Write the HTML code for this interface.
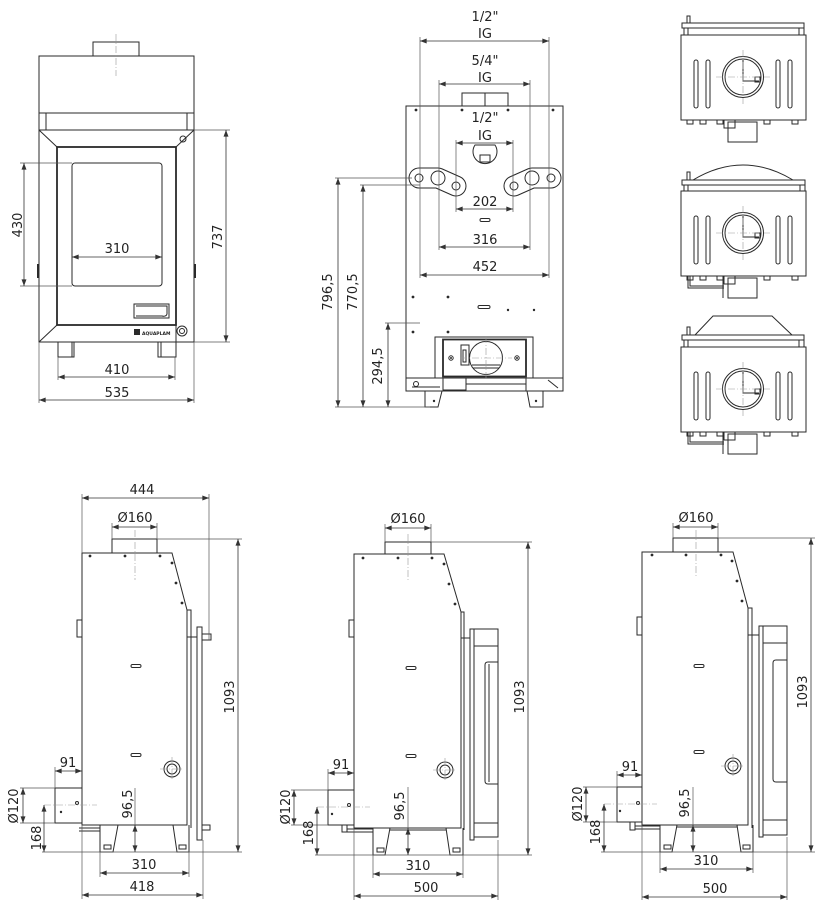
<!DOCTYPE html>
<html><head><meta charset="utf-8">
<style>
html,body{margin:0;padding:0;background:#fff;}
svg{display:block;}
text{font-family:"DejaVu Sans","Liberation Sans",sans-serif;font-size:13px;fill:#222;text-anchor:middle;}
.o{fill:none;stroke:#2a2a2a;stroke-width:1;}
.d{fill:none;stroke:#333;stroke-width:.8;marker-start:url(#a);marker-end:url(#a);}
.e{fill:none;stroke:#555;stroke-width:.7;}
.c{fill:none;stroke:#999;stroke-width:.6;stroke-dasharray:7 2 1 2;}
.f{fill:#2a2a2a;stroke:none;}
</style></head>
<body>
<svg width="815" height="900" viewBox="0 0 815 900" xmlns="http://www.w3.org/2000/svg">
<defs>
<marker id="a" viewBox="0 0 8 6" refX="8" refY="3" markerWidth="7" markerHeight="5" orient="auto-start-reverse" markerUnits="userSpaceOnUse"><path d="M0,0 L8,3 L0,6 z" fill="#333"/></marker>
</defs>

<!-- ================= FRONT VIEW ================= -->
<g class="o">
<rect x="93" y="42" width="46" height="14"/>
<rect x="39" y="56" width="155" height="74"/>
<line x1="39" y1="113" x2="194" y2="113"/>
<line x1="46" y1="113" x2="46" y2="130"/>
<line x1="187" y1="113" x2="187" y2="130"/>
<rect x="39" y="130" width="155" height="212"/>
<rect x="57" y="147" width="119" height="178" stroke-width="1.8"/>
<line x1="39" y1="130" x2="57" y2="147"/>
<line x1="194" y1="130" x2="176" y2="147"/>
<line x1="39" y1="342" x2="57" y2="325"/>
<line x1="176" y1="325" x2="176" y2="342"/>
<rect x="72" y="163" width="90" height="123" rx="3"/>
<rect x="134" y="304" width="35" height="14"/>
<path d="M136,306 H167 V314 Q166,317 162,316 H136"/>
<circle cx="183" cy="139" r="3"/>
<circle cx="182" cy="331" r="5"/><circle cx="182" cy="331" r="2.5"/>
<rect x="58" y="342" width="16" height="15"/><line x1="72" y1="342" x2="72" y2="357"/>
<rect x="158" y="342" width="18" height="15"/><line x1="161" y1="342" x2="161" y2="357"/>
<line x1="38" y1="264" x2="38" y2="278" stroke-width="2"/>
<line x1="195" y1="264" x2="195" y2="278" stroke-width="2"/>
</g>
<rect x="134" y="329" width="6" height="6" class="f"/>
<text x="142" y="335" style="font-size:4.5px;font-weight:bold;text-anchor:start">AQUAPLAM</text>
<line class="c" x1="116" y1="34" x2="116" y2="76"/>
<!-- front dims -->
<line class="e" x1="20" y1="163" x2="72" y2="163"/>
<line class="e" x1="20" y1="286" x2="72" y2="286"/>
<line class="d" x1="24" y1="163" x2="24" y2="286"/>
<text transform="translate(22,225) rotate(-90)">430</text>
<line class="d" x1="72" y1="257" x2="162" y2="257"/>
<text x="117" y="253">310</text>
<line class="e" x1="194" y1="130" x2="230" y2="130"/>
<line class="e" x1="194" y1="342" x2="230" y2="342"/>
<line class="d" x1="226" y1="130" x2="226" y2="342"/>
<text transform="translate(222,237) rotate(-90)">737</text>
<line class="e" x1="58" y1="357" x2="58" y2="380"/>
<line class="e" x1="175" y1="357" x2="175" y2="380"/>
<line class="d" x1="58" y1="377" x2="175" y2="377"/>
<text x="117" y="374">410</text>
<line class="e" x1="39" y1="342" x2="39" y2="403"/>
<line class="e" x1="194" y1="342" x2="194" y2="403"/>
<line class="d" x1="39" y1="400" x2="194" y2="400"/>
<text x="117" y="397">535</text>

<!-- ================= REAR VIEW ================= -->
<g class="o">
<rect x="462" y="93" width="46" height="13"/>
<line x1="485" y1="93" x2="485" y2="106"/>
<rect x="406" y="106" width="157" height="272"/>
<path d="M475,145 A12,12 0 1,0 495,145 Z"/>
<rect x="480" y="155" width="10" height="7"/>
<rect x="480" y="218.5" width="10" height="3" rx="1.5"/>
<rect x="478" y="305.5" width="12" height="3" rx="1.5"/>
<!-- firebox -->
<rect x="435" y="337" width="98" height="41"/>
<rect x="443" y="339.5" width="83" height="37" stroke-width="1.8"/>
<circle cx="486" cy="358" r="16.5"/>
<line x1="472" y1="365" x2="500" y2="365"/>
<line x1="473" y1="368" x2="499" y2="368"/>
<rect x="461" y="345" width="8" height="20"/>
<rect x="463" y="350" width="3" height="12"/>
<circle cx="451" cy="358" r="2.2"/>
<circle cx="517" cy="358" r="2.2"/>
<!-- base -->
<rect x="406" y="378" width="157" height="13"/>
<rect x="443" y="378" width="23" height="12"/>
<line x1="466" y1="384" x2="526" y2="384"/>
<line x1="526" y1="378" x2="526" y2="391"/>
<line x1="548" y1="380" x2="558" y2="388"/>
<circle cx="416" cy="384" r="2.5"/>
<line x1="412" y1="387" x2="440" y2="387"/>
<path d="M425,391 V407 H438 L442,391"/>
<path d="M543,391 V407 H530 L527,391"/>
</g>
<g class="f">
<circle cx="416" cy="110" r="1.4"/><circle cx="462" cy="110" r="1.4"/><circle cx="508" cy="110" r="1.4"/><circle cx="553" cy="110" r="1.4"/>
<circle cx="413" cy="297" r="1.4"/><circle cx="448" cy="297" r="1.4"/><circle cx="508" cy="310" r="1.2"/><circle cx="534" cy="310" r="1.2"/>
<circle cx="413" cy="332" r="1.4"/><circle cx="448" cy="332" r="1.4"/>
<circle cx="434" cy="401" r="1.2"/><circle cx="536" cy="401" r="1.2"/>
<circle cx="451" cy="358" r="1"/><circle cx="517" cy="358" r="1"/>
</g>
<!-- brackets -->
<polyline points="419,178 438,178 456,186" fill="none" stroke="#2a2a2a" stroke-width="21" stroke-linecap="round" stroke-linejoin="round"/>
<polyline points="419,178 438,178 456,186" fill="none" stroke="#fff" stroke-width="19" stroke-linecap="round" stroke-linejoin="round"/>
<polyline points="514,186 532,178 551,178" fill="none" stroke="#2a2a2a" stroke-width="21" stroke-linecap="round" stroke-linejoin="round"/>
<polyline points="514,186 532,178 551,178" fill="none" stroke="#fff" stroke-width="19" stroke-linecap="round" stroke-linejoin="round"/>
<g class="o">
<circle cx="419" cy="178" r="4"/><circle cx="438" cy="178" r="7"/><circle cx="456" cy="186" r="4"/>
<circle cx="514" cy="186" r="4"/><circle cx="532" cy="178" r="7"/><circle cx="551" cy="178" r="4"/>
</g>
<line class="c" x1="486" y1="336" x2="486" y2="380"/>
<line class="c" x1="460" y1="358" x2="512" y2="358"/>
<!-- rear dims -->
<line class="e" x1="420" y1="37" x2="420" y2="278"/>
<line class="e" x1="549" y1="37" x2="549" y2="278"/>
<line class="d" x1="420" y1="41" x2="549" y2="41"/>
<text x="485" y="21">1/2"</text><text x="485" y="38">IG</text>
<line class="e" x1="439" y1="80" x2="439" y2="250"/>
<line class="e" x1="530" y1="80" x2="530" y2="250"/>
<line class="d" x1="439" y1="84" x2="530" y2="84"/>
<text x="485" y="65">5/4"</text><text x="485" y="82">IG</text>
<line class="e" x1="456" y1="140" x2="456" y2="212"/>
<line class="e" x1="513" y1="140" x2="513" y2="212"/>
<line class="d" x1="456" y1="143" x2="513" y2="143"/>
<text x="485" y="122">1/2"</text><text x="485" y="140">IG</text>
<line class="d" x1="456" y1="209" x2="513" y2="209"/>
<text x="485" y="206">202</text>
<line class="d" x1="439" y1="247" x2="530" y2="247"/>
<text x="485" y="244">316</text>
<line class="d" x1="420" y1="275" x2="549" y2="275"/>
<text x="485" y="271">452</text>
<line class="e" x1="335" y1="178" x2="412" y2="178"/>
<line class="e" x1="360" y1="185" x2="420" y2="185"/>
<line class="e" x1="385" y1="323" x2="420" y2="323"/>
<line class="e" x1="335" y1="407" x2="430" y2="407"/>
<line class="d" x1="338" y1="178" x2="338" y2="407"/>
<line class="d" x1="363" y1="185" x2="363" y2="407"/>
<line class="d" x1="388" y1="323" x2="388" y2="407"/>
<text transform="translate(332,292) rotate(-90)">796,5</text>
<text transform="translate(357,292) rotate(-90)">770,5</text>
<text transform="translate(382,366) rotate(-90)">294,5</text>

<!-- ================= TOP VIEWS ================= -->
<g id="tv">
<g class="o">
<rect x="681" y="35" width="125" height="85"/>
<rect x="694" y="60" width="4" height="48" rx="2"/>
<rect x="706" y="60" width="4" height="48" rx="2"/>
<rect x="776" y="60" width="4" height="48" rx="2"/>
<rect x="788" y="60" width="4" height="48" rx="2"/>
<circle cx="743" cy="77" r="20.5"/>
<circle cx="743" cy="77" r="18"/>
<path d="M743,60 V81 H759"/>
<rect x="755" y="77" width="5" height="5"/>
<rect x="687" y="120" width="6" height="4"/>
<rect x="700" y="120" width="6" height="4"/>
<rect x="717" y="120" width="6" height="4"/>
<rect x="764" y="120" width="6" height="4"/>
<rect x="792" y="120" width="6" height="4"/>
<rect x="728" y="122" width="29" height="20"/>
<rect x="724" y="120" width="11" height="8"/>
</g>
<line class="c" x1="716" y1="77" x2="770" y2="77"/>
<line class="c" x1="743" y1="50" x2="743" y2="104"/>
</g>
<use href="#tv" y="156"/>
<use href="#tv" y="312"/>
<!-- view 1 plate -->
<g class="o">
<rect x="682" y="23" width="122" height="5"/>
<rect x="684" y="28" width="4" height="7"/>
<rect x="799" y="28" width="5" height="7"/>
<rect x="687" y="16" width="3" height="7"/>
<!-- view 2 -->
<path d="M693,180 Q743,150 793,180"/>
<rect x="682" y="180" width="123" height="5"/>
<rect x="684" y="185" width="4" height="6"/>
<rect x="800" y="185" width="5" height="6"/>
<rect x="687" y="172" width="3" height="8"/>
<path d="M688,276 V288 H724 M690,276 V286 H724"/>
<line x1="723" y1="276" x2="723" y2="298"/>
<!-- view 3 -->
<path d="M695,335 L713,316 H772 L792,335"/>
<rect x="682" y="335" width="122" height="5"/>
<rect x="684" y="340" width="4" height="7"/>
<rect x="799" y="340" width="5" height="7"/>
<rect x="687" y="327" width="3" height="8"/>
<path d="M688,432 V444 H724 M690,432 V442 H724"/>
<line x1="723" y1="432" x2="723" y2="454"/>
</g>

<!-- ================= SIDE VIEW 1 ================= -->
<g class="o">
<rect x="112" y="539" width="45" height="14"/>
<path d="M82,553 H172 L187,610 V825 H82 Z"/>
<rect x="187" y="610" width="4" height="27"/>
<line x1="191" y1="637" x2="191" y2="828"/>
<path d="M191,637 H197"/>
<rect x="197" y="627" width="5" height="213"/>
<rect x="202" y="634" width="9" height="6"/>
<rect x="202" y="825" width="8" height="5"/>
<rect x="77" y="620" width="5" height="17"/>
<rect x="131" y="664.5" width="10" height="3" rx="1.5"/>
<rect x="131" y="753.5" width="10" height="3" rx="1.5"/>
<circle cx="172" cy="769" r="8"/><circle cx="172" cy="769" r="5"/>
<rect x="55" y="788" width="27" height="35"/>
<circle cx="77" cy="803" r="1.5"/>
<path d="M79,828 H100 M79,831 H100"/>
<path d="M100,825 V852 H113 L118,825"/>
<path d="M189,825 V852 H177 L173,825"/>
<rect x="104" y="845" width="7" height="4"/>
<rect x="179" y="845" width="7" height="4"/>
</g>
<g class="f">
<circle cx="90" cy="556" r="1.4"/><circle cx="125" cy="556" r="1.4"/><circle cx="160" cy="556" r="1.4"/>
<circle cx="172" cy="563" r="1.4"/><circle cx="176" cy="583" r="1.4"/><circle cx="182" cy="603" r="1.4"/>
<circle cx="61" cy="812" r="1.2"/>
</g>
<line class="c" x1="135" y1="530" x2="135" y2="580"/>
<line class="c" x1="160" y1="769" x2="184" y2="769"/>
<line class="c" x1="172" y1="757" x2="172" y2="781"/>
<line class="c" x1="44" y1="805" x2="97" y2="805"/>
<!-- dims side 1 -->
<line class="e" x1="82" y1="494" x2="82" y2="553"/>
<line class="e" x1="209" y1="494" x2="209" y2="640"/>
<line class="d" x1="82" y1="498" x2="209" y2="498"/>
<text x="142" y="494">444</text>
<line class="e" x1="112" y1="523" x2="112" y2="539"/>
<line class="e" x1="157" y1="523" x2="157" y2="539"/>
<line class="d" x1="112" y1="527" x2="157" y2="527"/>
<text x="135" y="522">Ø160</text>
<line class="e" x1="157" y1="539" x2="242" y2="539"/>
<line class="e" x1="42" y1="852" x2="242" y2="852"/>
<line class="d" x1="238" y1="539" x2="238" y2="852"/>
<text transform="translate(234,697) rotate(-90)">1093</text>
<line class="e" x1="55" y1="767" x2="55" y2="788"/>
<line class="d" x1="55" y1="771" x2="82" y2="771"/>
<text x="68" y="767">91</text>
<line class="e" x1="20" y1="788" x2="55" y2="788"/>
<line class="e" x1="20" y1="823" x2="55" y2="823"/>
<line class="d" x1="23" y1="788" x2="23" y2="823"/>
<text transform="translate(18,806) rotate(-90)">Ø120</text>
<line class="d" x1="44" y1="805" x2="44" y2="852"/>
<text transform="translate(41,838) rotate(-90)">168</text>
<line class="e" x1="135" y1="788" x2="135" y2="825"/>
<line class="d" x1="135" y1="825" x2="135" y2="852"/>
<text transform="translate(132,804) rotate(-90)">96,5</text>
<line class="e" x1="100" y1="852" x2="100" y2="877"/>
<line class="e" x1="189" y1="852" x2="189" y2="877"/>
<line class="d" x1="100" y1="873" x2="189" y2="873"/>
<text x="144" y="869">310</text>
<line class="e" x1="82" y1="825" x2="82" y2="899"/>
<line class="e" x1="203" y1="840" x2="203" y2="899"/>
<line class="d" x1="82" y1="895" x2="203" y2="895"/>
<text x="142" y="891">418</text>

<!-- ================= SIDE VIEW 2 ================= -->
<g class="o">
<rect x="385" y="542" width="46" height="12"/>
<path d="M354,554 H444 L461,612 V828 H354 Z"/>
<rect x="461" y="612" width="3" height="26"/>
<line x1="464" y1="638" x2="464" y2="830"/>
<path d="M464,638 H470"/>
<rect x="470" y="629" width="4" height="211"/>
<rect x="474" y="629" width="24" height="208"/>
<line x1="474" y1="646" x2="498" y2="646"/>
<line x1="474" y1="823" x2="498" y2="823"/>
<path d="M498,662 H488 Q485,662 485,665 V781 Q485,784 488,784 H498"/>
<line x1="489" y1="664" x2="489" y2="782"/>
<rect x="349" y="620" width="5" height="17"/>
<rect x="406" y="666.5" width="10" height="3" rx="1.5"/>
<rect x="406" y="754.5" width="10" height="3" rx="1.5"/>
<circle cx="445" cy="770" r="8"/><circle cx="445" cy="770" r="5"/>
<rect x="328" y="790" width="26" height="35"/>
<circle cx="349" cy="805" r="1.5"/>
<rect x="342" y="825" width="5" height="7"/>
<path d="M347,829 H373 M347,832 H373"/>
<line x1="390" y1="830" x2="446" y2="830"/>
<path d="M373,828 V855 H385 L390,828"/>
<path d="M463,828 V855 H450 L446,828"/>
<rect x="377" y="848" width="7" height="4"/>
<rect x="453" y="848" width="7" height="4"/>
</g>
<g class="f">
<circle cx="363" cy="558" r="1.4"/><circle cx="398" cy="558" r="1.4"/><circle cx="432" cy="558" r="1.4"/>
<circle cx="444" cy="564" r="1.4"/><circle cx="449" cy="584" r="1.4"/><circle cx="455" cy="604" r="1.4"/>
<circle cx="332" cy="814" r="1.2"/>
</g>
<line class="c" x1="408" y1="534" x2="408" y2="580"/>
<line class="c" x1="433" y1="770" x2="457" y2="770"/>
<line class="c" x1="445" y1="758" x2="445" y2="782"/>
<line class="c" x1="317" y1="807" x2="370" y2="807"/>
<!-- dims side 2 -->
<line class="e" x1="385" y1="524" x2="385" y2="542"/>
<line class="e" x1="431" y1="524" x2="431" y2="542"/>
<line class="d" x1="385" y1="528" x2="431" y2="528"/>
<text x="408" y="523">Ø160</text>
<line class="e" x1="431" y1="542" x2="532" y2="542"/>
<line class="e" x1="315" y1="855" x2="532" y2="855"/>
<line class="d" x1="528" y1="542" x2="528" y2="855"/>
<text transform="translate(524,697) rotate(-90)">1093</text>
<line class="e" x1="328" y1="769" x2="328" y2="790"/>
<line class="d" x1="328" y1="773" x2="354" y2="773"/>
<text x="341" y="769">91</text>
<line class="e" x1="291" y1="790" x2="328" y2="790"/>
<line class="e" x1="291" y1="825" x2="328" y2="825"/>
<line class="d" x1="294" y1="790" x2="294" y2="825"/>
<text transform="translate(290,807) rotate(-90)">Ø120</text>
<line class="d" x1="317" y1="807" x2="317" y2="855"/>
<text transform="translate(313,833) rotate(-90)">168</text>
<line class="e" x1="408" y1="787" x2="408" y2="828"/>
<line class="d" x1="408" y1="828" x2="408" y2="855"/>
<text transform="translate(404,806) rotate(-90)">96,5</text>
<line class="e" x1="373" y1="855" x2="373" y2="878"/>
<line class="e" x1="463" y1="855" x2="463" y2="878"/>
<line class="d" x1="373" y1="874" x2="463" y2="874"/>
<text x="418" y="870">310</text>
<line class="e" x1="354" y1="828" x2="354" y2="900"/>
<line class="e" x1="498" y1="840" x2="498" y2="900"/>
<line class="d" x1="354" y1="896" x2="498" y2="896"/>
<text x="426" y="892">500</text>

<!-- ================= SIDE VIEW 3 ================= -->
<g class="o">
<rect x="673" y="538" width="45" height="14"/>
<path d="M642,552 H733 L748,608 V825 H642 Z"/>
<rect x="748" y="608" width="4" height="27"/>
<line x1="752" y1="635" x2="752" y2="828"/>
<path d="M752,635 H759"/>
<rect x="759" y="626" width="4" height="211"/>
<rect x="763" y="626" width="24" height="209"/>
<line x1="763" y1="643" x2="787" y2="643"/>
<line x1="763" y1="820" x2="787" y2="820"/>
<path d="M787,660 H776 Q773,660 773,663 V779 Q773,782 776,782 H787"/>
<rect x="637" y="617" width="5" height="18"/>
<rect x="694" y="664.5" width="10" height="3" rx="1.5"/>
<rect x="694" y="750.5" width="10" height="3" rx="1.5"/>
<circle cx="733" cy="766" r="8"/><circle cx="733" cy="766" r="5"/>
<rect x="617" y="787" width="25" height="35"/>
<circle cx="638" cy="803" r="1.5"/>
<rect x="630" y="822" width="5" height="8"/>
<path d="M635,826 H660 M635,829 H660"/>
<line x1="677" y1="827" x2="737" y2="827"/>
<path d="M660,825 V852 H672 L677,825"/>
<path d="M753,825 V852 H741 L737,825"/>
<rect x="664" y="845" width="7" height="4"/>
<rect x="743" y="845" width="7" height="4"/>
</g>
<g class="f">
<circle cx="652" cy="555" r="1.4"/><circle cx="686" cy="555" r="1.4"/><circle cx="721" cy="555" r="1.4"/>
<circle cx="732" cy="561" r="1.4"/><circle cx="737" cy="581" r="1.4"/><circle cx="742" cy="601" r="1.4"/>
<circle cx="620" cy="811" r="1.2"/>
</g>
<line class="c" x1="696" y1="530" x2="696" y2="576"/>
<line class="c" x1="721" y1="766" x2="745" y2="766"/>
<line class="c" x1="733" y1="754" x2="733" y2="778"/>
<line class="c" x1="604" y1="804" x2="657" y2="804"/>
<!-- dims side 3 -->
<line class="e" x1="673" y1="523" x2="673" y2="538"/>
<line class="e" x1="718" y1="523" x2="718" y2="538"/>
<line class="d" x1="673" y1="527" x2="718" y2="527"/>
<text x="696" y="522">Ø160</text>
<line class="e" x1="718" y1="538" x2="815" y2="538"/>
<line class="e" x1="601" y1="852" x2="815" y2="852"/>
<line class="d" x1="811" y1="538" x2="811" y2="852"/>
<text transform="translate(807,692) rotate(-90)">1093</text>
<line class="e" x1="617" y1="771" x2="617" y2="787"/>
<line class="d" x1="617" y1="775" x2="642" y2="775"/>
<text x="630" y="771">91</text>
<line class="e" x1="583" y1="787" x2="617" y2="787"/>
<line class="e" x1="583" y1="822" x2="617" y2="822"/>
<line class="d" x1="586" y1="787" x2="586" y2="822"/>
<text transform="translate(582,804) rotate(-90)">Ø120</text>
<line class="d" x1="604" y1="804" x2="604" y2="852"/>
<text transform="translate(600,832) rotate(-90)">168</text>
<line class="e" x1="693" y1="787" x2="693" y2="825"/>
<line class="d" x1="693" y1="825" x2="693" y2="852"/>
<text transform="translate(689,803) rotate(-90)">96,5</text>
<line class="e" x1="660" y1="852" x2="660" y2="873"/>
<line class="e" x1="753" y1="852" x2="753" y2="873"/>
<line class="d" x1="660" y1="869" x2="753" y2="869"/>
<text x="706" y="865">310</text>
<line class="e" x1="642" y1="825" x2="642" y2="900"/>
<line class="e" x1="787" y1="837" x2="787" y2="900"/>
<line class="d" x1="642" y1="897" x2="787" y2="897"/>
<text x="715" y="893">500</text>
</svg>
</body></html>
